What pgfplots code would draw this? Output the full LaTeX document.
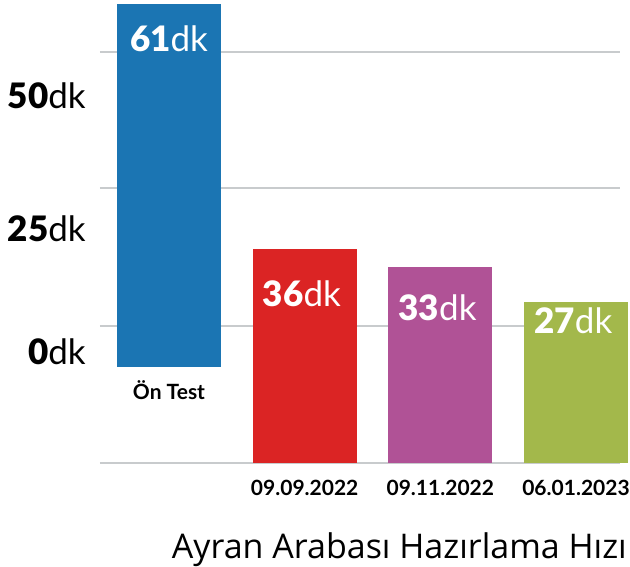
\documentclass[border=0pt]{standalone}
\usepackage{fontspec}
\setmainfont{Lato}
\IfFontExistsTF{Lato Black}{\newfontfamily\heavy{Lato Black}}{\newfontfamily\heavy{Lato}[UprightFont=*-Bold]}
\newfontfamily\titlefont{Open Sans}
\usepackage{pgfplots}
\pgfplotsset{compat=1.18}
\definecolor{cblue}{HTML}{1B75B3}
\definecolor{cred}{HTML}{DB2424}
\definecolor{cpurple}{HTML}{B05296}
\definecolor{cgreen}{HTML}{A3B84B}
\definecolor{cgrid}{HTML}{C8CBCD}
\newcommand{\valtxt}[1]{{\fontsize{35}{40}\selectfont{\heavy #1}dk}}
\newcommand{\cattxt}[1]{{\fontsize{21}{24}\selectfont\bfseries #1}}
\begin{document}
\begin{tikzpicture}
\begin{axis}[
  scale only axis, width=520pt, height=567pt,
  xmin=-0.5086, xmax=3.324, ymin=-17.48, ymax=77.82,
  ybar stacked, bar width=104pt,
  axis line style={draw=none}, major tick length=0pt,
  xtick=\empty, ytick={0,23.0,46.2,69.1}, yticklabels={},
  ymajorgrids, grid style={cgrid, line width=2.2pt},
  clip=false,
]
\addplot[draw=none, fill=none] coordinates {(0,16.13) (1,0) (2,0) (3,0)};
\addplot[draw=none, fill=cblue] coordinates {(0,61) (1,0) (2,0) (3,0)};
\addplot[draw=none, fill=cred] coordinates {(0,0) (1,36) (2,0) (3,0)};
\addplot[draw=none, fill=cpurple] coordinates {(0,0) (1,0) (2,33) (3,0)};
\addplot[draw=none, fill=cgreen] coordinates {(0,0) (1,0) (2,0) (3,27)};
\coordinate (l61) at (axis cs:0,69.1);
\coordinate (l36) at (axis cs:0.98,26.3);
\coordinate (l33) at (axis cs:1.98,23.9);
\coordinate (l27) at (axis cs:2.98,21.7);
% y labels
\node[anchor=base east, inner sep=0pt] at (axis cs:-0.612,59.5) {\valtxt{50}};
\node[anchor=base east, inner sep=0pt] at (axis cs:-0.612,37.3) {\valtxt{25}};
\node[anchor=base east, inner sep=0pt] at (axis cs:-0.612,16.5) {\valtxt{0}};
% category labels
\node[anchor=base] at (axis cs:0,10.6) {\cattxt{Ön Test}};
\node[anchor=base] at (axis cs:1,-5.4) {\cattxt{09.09.2022}};
\node[anchor=base] at (axis cs:2,-5.4) {\cattxt{09.11.2022}};
\node[anchor=base] at (axis cs:3,-5.4) {\cattxt{06.01.2023}};
% title
\node[anchor=base east, inner sep=0pt] at (axis cs:3.376,-16.0) {\fontsize{34}{38}\selectfont\titlefont Ayran Arabası Hazırlama Hızı};
% bounding box
\path[use as bounding box] (axis cs:-1.2457,-17.48) rectangle (axis cs:3.398,77.82);
\end{axis}
\node[anchor=base, text=white] at (l61) {\valtxt{61}};
\node[anchor=base, text=white] at (l36) {\valtxt{36}};
\node[anchor=base, text=white] at (l33) {\valtxt{33}};
\node[anchor=base, text=white] at (l27) {\valtxt{27}};
\end{tikzpicture}
\end{document}
